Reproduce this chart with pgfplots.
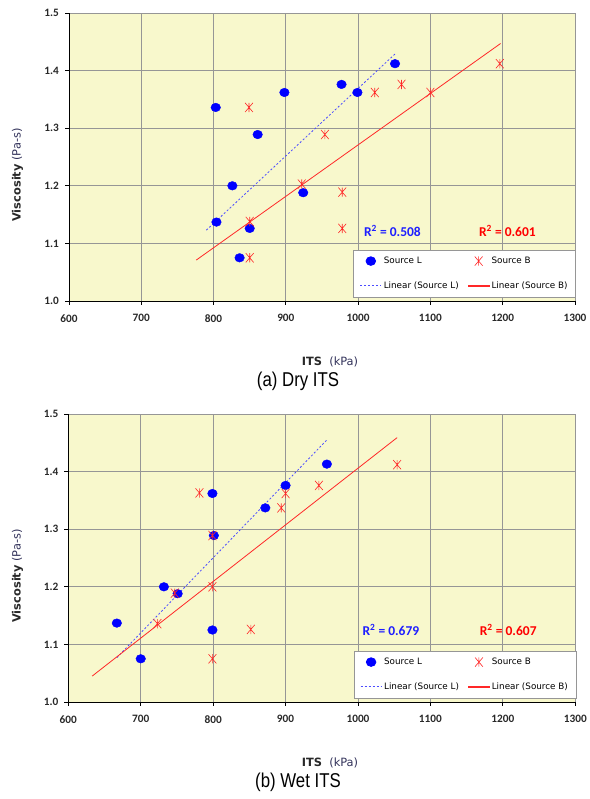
\documentclass[border=0pt]{standalone}
\usepackage{fontspec}
\setmainfont{Carlito}
\newfontfamily\capfont[FakeStretch=0.84]{Liberation Sans}
\newfontfamily\dvs{DejaVu Sans}
\usepackage{pgfplots}
\pgfplotsset{compat=1.18}
\definecolor{bgy}{RGB}{248,248,204}
\definecolor{gridg}{RGB}{150,150,150}
\definecolor{mblue}{RGB}{0,0,255}
\definecolor{mred}{RGB}{255,40,40}
\definecolor{tlab}{RGB}{40,40,40}
\definecolor{lblue}{RGB}{50,50,90}
\definecolor{rblue}{RGB}{30,30,255}

\pgfdeclareplotmark{xstar}{%
 \pgfpathmoveto{\pgfqpoint{-0.85\pgfplotmarksize}{-\pgfplotmarksize}}%
 \pgfpathlineto{\pgfqpoint{0.85\pgfplotmarksize}{\pgfplotmarksize}}%
 \pgfpathmoveto{\pgfqpoint{-0.85\pgfplotmarksize}{\pgfplotmarksize}}%
 \pgfpathlineto{\pgfqpoint{0.85\pgfplotmarksize}{-\pgfplotmarksize}}%
 \pgfpathmoveto{\pgfqpoint{0pt}{-\pgfplotmarksize}}%
 \pgfpathlineto{\pgfqpoint{0pt}{\pgfplotmarksize}}%
 \pgfusepathqstroke}

\pgfplotsset{myax/.style={
 scale only axis, width=506pt, height=288pt,
 xmin=600, xmax=1300, ymin=1, ymax=1.5,
 xtick={600,700,800,900,1000,1100,1200,1300},
 ytick={1.0,1.1,1.2,1.3,1.4,1.5},
 axis x line*=bottom, axis y line*=left,
 axis line style={-, black, line width=0.8pt},
 grid=major, major grid style={gridg, line width=0.8pt},
 axis background/.style={fill=bgy},
 tick align=outside, major tick length=4pt,
 tick style={black, line width=0.8pt},
 /pgf/number format/assume math mode=true,
 ticklabel style={font=\fontsize{11.3}{13}\selectfont\bfseries, text=tlab},
 yticklabel style={/pgf/number format/fixed, /pgf/number format/fixed zerofill, /pgf/number format/precision=1, xshift=-2.5pt},
 xticklabel style={/pgf/number format/1000 sep={}, yshift=-6pt},
 legend image code/.code={\draw[mark repeat=2,mark phase=2,#1] plot coordinates {(0pt,0pt)(10.5pt,0pt)(21pt,0pt)};},
 legend cell align=left,
 legend style={at={(1.002,0.0115)}, anchor=south east, draw=gridg, line width=0.8pt, fill=white,
   font=\dvs\fontsize{8.8}{10}\selectfont, legend columns=2,
   row sep=13pt, inner xsep=6pt, inner ysep=5pt,
   /tikz/every even column/.append style={column sep=7pt}},
 bluefit/.style={color=mblue!70, line width=0.8pt, dash pattern=on 2pt off 2pt,
   legend image code/.code={\draw[mblue!70, line width=1pt, dash pattern=on 2pt off 2pt] (0pt,0.5pt) -- (21pt,0.5pt);}},
 redfit/.style={color=mred, line width=0.8pt,
   legend image code/.code={\fill[mred] (0pt,-0.1pt) rectangle (21pt,1.1pt);}},
}}

\begin{document}
\begin{tikzpicture}
\useasboundingbox (0,0) rectangle (589pt,799pt);

% ---------- (a) Dry ITS ----------
\begin{axis}[myax, at={(69pt,498pt)}, anchor=south west]
\addplot[only marks, mark=*, mark size=4.8pt, color=mblue, mark options={yscale=0.9}] coordinates {
(803,1.336) (898,1.362) (977,1.376) (999,1.362) (1051,1.412) (861,1.289)
(826,1.200) (804,1.137) (850,1.126) (924,1.188) (836,1.075)};
\addlegendentry{Source L}
\addplot[only marks, mark=xstar, mark size=4.6pt, color=mred, line width=0.6pt] coordinates {
(849,1.336) (954,1.289) (922,1.203) (978,1.189) (978,1.126) (850,1.138)
(850,1.075) (1023,1.362) (1060,1.376) (1100,1.362) (1196,1.412)};
\addlegendentry{Source B}
\addplot[bluefit] coordinates {(790,1.123) (1052,1.430)};
\addlegendentry{Linear (Source L)}
\addplot[redfit] coordinates {(776,1.071) (1197,1.447)};
\addlegendentry{Linear (Source B)}
\node[anchor=west, font=\fontsize{13.5}{15}\selectfont\bfseries, text=rblue, inner sep=0pt] at (axis cs:1008,1.122) {R\textsuperscript{2} = 0.508};
\node[anchor=west, font=\fontsize{13.5}{15}\selectfont\bfseries, text=red, inner sep=0pt] at (axis cs:1167,1.122) {R\textsuperscript{2} = 0.601};
\end{axis}
\node[rotate=90, font=\dvs\fontsize{11.4}{13}\selectfont] at (17.5pt,624pt) {\textbf{\color{tlab}Viscosity} \color{lblue}(Pa-s)};
\node[font=\dvs\fontsize{11.4}{13}\selectfont] at (330pt,437pt) {\textbf{\color{tlab}ITS}\ \ \color{lblue}(kPa)};
\node[font=\capfont\fontsize{20}{22}\selectfont] at (298pt,418pt) {(a) Dry ITS};

% ---------- (b) Wet ITS ----------
\begin{axis}[myax, at={(68.3pt,97pt)}, anchor=south west, width=507pt]
\addplot[only marks, mark=*, mark size=4.8pt, color=mblue, mark options={yscale=0.9}] coordinates {
(667,1.137) (700,1.075) (732,1.200) (751,1.188) (799,1.125) (799,1.362)
(801,1.289) (872,1.337) (900,1.376) (957,1.413)};
\addlegendentry{Source L}
\addplot[only marks, mark=xstar, mark size=4.6pt, color=mred, line width=0.6pt] coordinates {
(781,1.363) (799,1.289) (747,1.189) (723,1.136) (799,1.200) (799,1.075)
(852,1.126) (894,1.337) (900,1.362) (946,1.376) (1054,1.412)};
\addlegendentry{Source B}
\addplot[bluefit] coordinates {(667,1.077) (957,1.455)};
\addlegendentry{Linear (Source L)}
\addplot[redfit] coordinates {(633,1.045) (1054,1.459)};
\addlegendentry{Linear (Source B)}
\node[anchor=west, font=\fontsize{13.5}{15}\selectfont\bfseries, text=rblue, inner sep=0pt] at (axis cs:1006,1.125) {R\textsuperscript{2} = 0.679};
\node[anchor=west, font=\fontsize{13.5}{15}\selectfont\bfseries, text=red, inner sep=0pt] at (axis cs:1168,1.125) {R\textsuperscript{2} = 0.607};
\end{axis}
\node[rotate=90, font=\dvs\fontsize{11.4}{13}\selectfont] at (17.5pt,223pt) {\textbf{\color{tlab}Viscosity} \color{lblue}(Pa-s)};
\node[font=\dvs\fontsize{11.4}{13}\selectfont] at (330pt,36pt) {\textbf{\color{tlab}ITS}\ \ \color{lblue}(kPa)};
\node[font=\capfont\fontsize{20}{22}\selectfont] at (298pt,17pt) {(b) Wet ITS};
\end{tikzpicture}
\end{document}
